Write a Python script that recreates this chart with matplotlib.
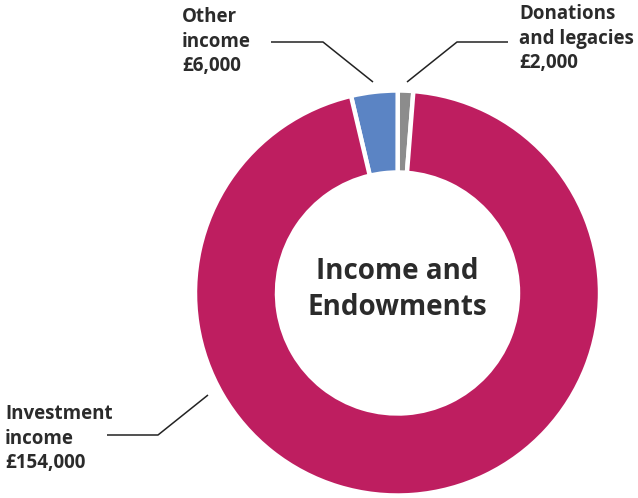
import matplotlib
matplotlib.use("Agg")
import matplotlib.pyplot as plt

# Income sources (GBP)
categories = ["Donations and legacies", "Other income", "Investment income"]
values = [2000, 6000, 154000]
label_lines = [["Donations", "and legacies"], ["Other", "income"], ["Investment", "income"]]
colors = ["#8C8C8C", "#5B84C4", "#BE1E60"]
center_title = "Income and\nEndowments"

W, H = 638, 498
fig = plt.figure(figsize=(W / 100, H / 100), dpi=100)
ax = fig.add_axes([0, 0, 1, 1])

cx, cy = 397.5, H - 293
R_out, R_in = 202.5, 120.5

ax.pie(values, colors=colors, startangle=85.5, counterclock=True,
       radius=R_out, center=(cx, cy),
       wedgeprops=dict(width=R_out - R_in, edgecolor="white", linewidth=3.2))
ax.set_xlim(0, W)
ax.set_ylim(0, H)
ax.set_aspect("equal")
ax.axis("off")

def py(y):
    return H - y

font = ["Open Sans", "DejaVu Sans"]
txt_color = "#2b2b2b"

def money(v):
    return "£{:,}".format(v)

# label anchor (left x, last baseline y) and leader polyline per category
label_pos = {
    "Donations and legacies": (519, 68),
    "Other income": (182, 71),
    "Investment income": (5, 468),
}
leaders = {
    "Donations and legacies": [(407, 82), (457, 42), (508, 42)],
    "Other income": [(271, 42), (323, 42), (373, 82)],
    "Investment income": [(107, 435), (158, 435), (208, 395)],
}

for cat, lines, v in zip(categories, label_lines, values):
    x, y = label_pos[cat]
    text = "\n".join(lines + [money(v)])
    ax.text(x, py(y), text, ha="left", va="baseline", fontsize=13.5,
            fontweight="bold", family=font, color=txt_color, linespacing=1.3)
    xs = [p[0] for p in leaders[cat]]
    ys = [py(p[1]) for p in leaders[cat]]
    ax.plot(xs, ys, color="#222222", linewidth=1.1, solid_capstyle="butt")

ax.text(cx, py(315), center_title, ha="center", va="baseline", fontsize=20,
        fontweight="bold", family=font, color=txt_color, linespacing=1.32)

fig.savefig("out.png", dpi=100, facecolor="white")
